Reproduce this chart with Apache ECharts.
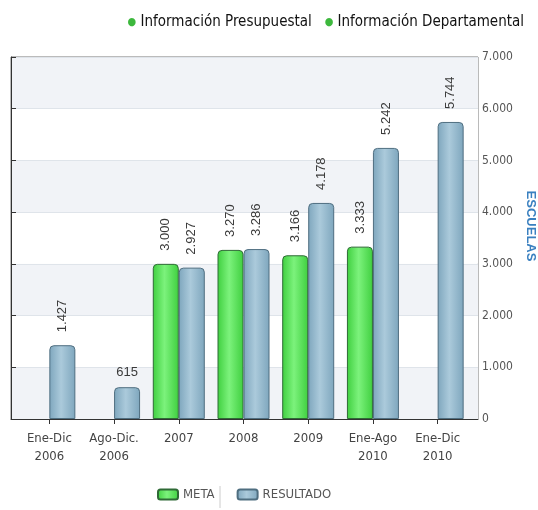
<!DOCTYPE html>
<html>
<head>
<meta charset="utf-8">
<script src="https://cdn.jsdelivr.net/npm/echarts@6/dist/echarts.min.js"></script>
<style>
  html, body { margin: 0; padding: 0; background: #fff; }
  #chart { width: 538px; height: 510px; }
</style>
</head>
<body>
<div id="chart"></div>
<script>
// datos
const categories = ['Ene-Dic\n2006', 'Ago-Dic.\n2006', '2007', '2008', '2009', 'Ene-Ago\n2010', 'Ene-Dic\n2010']
const meta = [null, null, 3000, 3270, 3166, 3333, null]
const resultado = [1427, 615, 2927, 3286, 4178, 5242, 5744]
const yTicks = [0, 1000, 2000, 3000, 4000, 5000, 6000, 7000]

const narrow = "'DejaVu Sans Condensed', 'Liberation Sans Narrow', 'Liberation Sans', sans-serif"

function miles(v) {
  return String(v).replace(/\B(?=(\d{3})+(?!\d))/g, '.')
}

function grad(edge, mid) {
  return new echarts.graphic.LinearGradient(0, 0, 1, 0, [
    { offset: 0, color: edge },
    { offset: 0.45, color: mid },
    { offset: 1, color: edge }
  ])
}

const barLabel = {
  show: true,
  position: 'top',
  rotate: 90,
  align: 'left',
  verticalAlign: 'middle',
  distance: 13,
  fontSize: 13,
  fontFamily: 'Liberation Sans, Arial, sans-serif',
  color: '#3a3a3a',
  formatter: p => miles(p.value)
}

const resultadoData = resultado.map(v => {
  if (v < 1000) {
    return { value: v, label: { rotate: 0, align: 'center', verticalAlign: 'bottom', distance: 8 } }
  }
  return v
})

const myChart = echarts.init(document.getElementById('chart'))
const option = {
  animation: false,
  title: {
    right: 9,
    top: 10,
    text: '{b|●} Información Presupuestal   {b|●} Información Departamental',
    textStyle: {
      fontFamily: narrow,
      fontSize: 15,
      fontWeight: 'normal',
      color: '#111',
      rich: {
        b: { color: '#3db83d', fontSize: 11, fontFamily: narrow }
      }
    }
  },
  legend: {
    bottom: 4,
    left: 152,
    itemWidth: 20,
    itemHeight: 10,
    itemGap: 22,
    data: ['META', 'RESULTADO'],
    textStyle: { fontFamily: narrow, fontSize: 13, color: '#555' }
  },
  grid: [
    { left: 11, right: 60, top: 57, bottom: 91, show: true, borderColor: '#777', borderWidth: 1 },
    { left: 17, right: 68, top: 57, bottom: 91 }
  ],
  xAxis: [
    {
      gridIndex: 0, type: 'value', min: 0, max: 1,
      axisLine: { show: true, onZero: false, lineStyle: { color: '#333' } },
      axisTick: { show: false }, axisLabel: { show: false }, splitLine: { show: false }
    },
    {
      gridIndex: 1, type: 'category', data: categories,
      axisLine: { show: true, lineStyle: { color: '#333' } },
      axisTick: { show: true, alignWithLabel: true, length: 5, lineStyle: { color: '#333' } },
      axisLabel: { interval: 0, fontFamily: narrow, fontSize: 13, color: '#444', margin: 11, lineHeight: 18 }
    }
  ],
  yAxis: [
    {
      gridIndex: 0, type: 'value', position: 'right',
      min: yTicks[0], max: yTicks[yTicks.length - 1], interval: 1000,
      axisLine: { show: true, lineStyle: { color: '#333' } },
      axisTick: { show: true, length: 5, lineStyle: { color: '#333' } },
      axisLabel: { fontFamily: narrow, fontSize: 12, color: '#555', margin: 4, formatter: v => miles(v) },
      splitLine: { show: true, lineStyle: { color: '#dfe4ea' } },
      splitArea: { show: true, areaStyle: { color: ['#f1f3f7', '#ffffff'] } }
    },
    {
      gridIndex: 1, type: 'value', min: 0, max: 7000, show: false
    }
  ],
  graphic: [
    {
      type: 'text',
      x: 531, y: 226,
      rotation: -Math.PI / 2,
      style: {
        text: 'ESCUELAS',
        fill: '#3a80c0',
        font: 'bold 13px "Liberation Sans", Arial, sans-serif',
        textAlign: 'center',
        textVerticalAlign: 'middle'
      }
    },
    {
      type: 'line',
      shape: { x1: 220, y1: 486, x2: 220, y2: 508 },
      style: { stroke: '#ccc', lineWidth: 1 }
    }
  ],
  series: [
    {
      name: 'META',
      type: 'bar',
      xAxisIndex: 1,
      yAxisIndex: 1,
      barWidth: 26,
      barGap: '0%',
      data: meta,
      itemStyle: {
        color: grad('#3fcf3f', '#7cf27c'),
        borderColor: '#2f6a36',
        borderWidth: 1,
        borderRadius: [4, 4, 0, 0]
      },
      label: barLabel
    },
    {
      name: 'RESULTADO',
      type: 'bar',
      xAxisIndex: 1,
      yAxisIndex: 1,
      barWidth: 26,
      barGap: '0%',
      data: resultadoData,
      itemStyle: {
        color: grad('#7ea6bd', '#abcadb'),
        borderColor: '#4f6e80',
        borderWidth: 1,
        borderRadius: [4, 4, 0, 0]
      },
      label: barLabel
    }
  ]
}
myChart.setOption(option)
</script>
</body>
</html>
